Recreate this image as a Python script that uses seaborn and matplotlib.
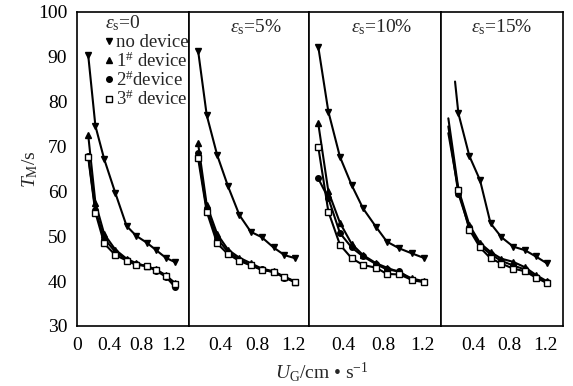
import numpy as np
import pandas as pd
import matplotlib
matplotlib.use("Agg")
import matplotlib.pyplot as plt
from matplotlib.lines import Line2D
import seaborn as sns

sns.set_style("white")
plt.rcParams['font.family'] = ['Liberation Serif', 'DejaVu Serif']
plt.rcParams['mathtext.fontset'] = 'custom'
plt.rcParams['mathtext.rm'] = 'Liberation Serif'
plt.rcParams['mathtext.it'] = 'Liberation Serif:italic'

# ---------------- data ----------------
panel_labels = ["0", "5%", "10%", "15%"]
device_labels = ["no device", "1$^{\\#}$ device", "2$^{\\#}$device", "3$^{\\#}$ device"]

# panel 1 (eps_s = 0)
ug_p1 = [0.14, 0.23, 0.34, 0.48, 0.62, 0.74, 0.87, 0.99, 1.11, 1.23]
no_p1 = [90.4, 74.6, 67.2, 59.6, 52.3, 50.1, 48.6, 46.9, 45.2, 44.2]
d1_p1 = [72.6, 57.5, 50.5, 47.0, 45.0, 44.0, 43.3, 42.6, 41.3, 39.5]
d2_p1 = [68.0, 55.8, 49.5, 46.5, 44.8, 43.8, 43.4, 42.3, 41.0, 38.6]
d3_p1 = [67.6, 55.3, 48.4, 45.8, 44.6, 43.6, 43.4, 42.5, 41.2, 39.4]

# panel 2 (eps_s = 5%)
ug_p2 = [0.15, 0.245, 0.36, 0.48, 0.605, 0.73, 0.85, 0.98, 1.10, 1.22]
no_p2 = [91.4, 77.0, 68.1, 61.1, 54.7, 51.0, 49.8, 47.5, 45.8, 45.1]
d1_p2 = [70.7, 57.0, 50.5, 47.0, 45.2, 44.0, 42.8, 42.2, 41.0, 39.9]
d2_p2 = [68.5, 56.0, 49.5, 46.5, 44.8, 43.6, 42.6, 42.0, 40.8, 39.7]
d3_p2 = [67.4, 55.5, 48.4, 46.0, 44.5, 43.5, 42.5, 42.1, 40.9, 39.8]

# panel 3 (eps_s = 10%)
ug_p3 = [0.148, 0.25, 0.367, 0.485, 0.60, 0.73, 0.84, 0.965, 1.09, 1.21]
no_p3 = [92.3, 77.8, 67.7, 61.4, 56.2, 52.1, 48.8, 47.3, 46.2, 45.2]
d1_p3 = [75.2, 60.0, 53.0, 48.3, 45.8, 44.0, 43.0, 42.0, 40.6, 40.0]
d2_p3 = [62.9, 58.5, 50.7, 47.5, 45.5, 43.8, 42.6, 42.2, 40.2, 39.8]
d3_p3 = [70.0, 55.5, 48.1, 45.1, 43.6, 43.0, 41.6, 41.5, 40.3, 39.9]

# panel 4 (eps_s = 15%)
ug_no_p4 = [0.198, 0.235, 0.356, 0.474, 0.59, 0.71, 0.84, 0.97, 1.09, 1.21]
no_p4 = [84.5, 77.4, 67.9, 62.5, 52.9, 49.8, 47.7, 46.9, 45.5, 44.0]
ug_p4 = [0.124, 0.235, 0.356, 0.474, 0.59, 0.71, 0.84, 0.97, 1.09, 1.21]
d1_p4 = [76.3, 60.5, 52.5, 48.5, 46.5, 45.0, 44.3, 43.1, 41.4, 40.0]
d2_p4 = [74.5, 59.5, 52.0, 48.0, 46.0, 44.5, 43.5, 42.6, 41.0, 39.8]
d3_p4 = [73.0, 60.3, 51.5, 47.5, 45.1, 43.9, 42.8, 42.2, 40.8, 39.6]

panels = [
    [(ug_p1, no_p1), (ug_p1, d1_p1), (ug_p1, d2_p1), (ug_p1, d3_p1)],
    [(ug_p2, no_p2), (ug_p2, d1_p2), (ug_p2, d2_p2), (ug_p2, d3_p2)],
    [(ug_p3, no_p3), (ug_p3, d1_p3), (ug_p3, d2_p3), (ug_p3, d3_p3)],
    [(ug_no_p4, no_p4), (ug_p4, d1_p4), (ug_p4, d2_p4), (ug_p4, d3_p4)],
]

# ---------------- layout ----------------
W, H = 573, 386
fig = plt.figure(figsize=(W / 100, H / 100), dpi=100)
edges = [77, 189, 309, 441, 563]
top_px, bot_px = 12, 326
xlims = [(0.0, 1.40), (0.05, 1.37), (0.055, 1.385), (0.043, 1.39)]
text_x = [None, 256, 382, 502]

markers = ['v', '^', 'o', 's']
fs = 14

for i in range(4):
    l = edges[i] / W
    w = (edges[i + 1] - edges[i]) / W
    b = (H - bot_px) / H
    h = (bot_px - top_px) / H
    ax = fig.add_axes([l, b, w, h])
    for j, (xs, ys) in enumerate(panels[i]):
        kw = dict(marker=markers[j], color='black', linewidth=1.5,
                  markersize=4.5 if j != 2 else 4, markeredgecolor='black',
                  markeredgewidth=1.0)
        if markers[j] == 's':
            kw['markerfacecolor'] = 'white'
            kw['markersize'] = 4
        if i == 3:
            kw['markevery'] = list(range(1, len(xs)))
        sns.lineplot(x=xs, y=ys, ax=ax, **kw)
    ax.set_xlim(*xlims[i])
    ax.set_ylim(30, 100)
    for s in ax.spines.values():
        s.set_color('black')
        s.set_linewidth(1.2)
    ax.tick_params(direction='in', length=3, width=1, colors='black', labelsize=fs)
    ax.tick_params(axis='x', pad=8)
    if i == 0:
        ax.set_xticks([0, 0.4, 0.8, 1.2])
        ax.set_xticklabels(['0', '0.4', '0.8', '1.2'])
        ax.set_yticks(range(30, 101, 10))
        ax.tick_params(axis='y', pad=7)
    else:
        ax.set_xticks([0.4, 0.8, 1.2])
        ax.set_xticklabels(['0.4', '0.8', '1.2'])
        ax.set_yticks([])
    ax.set_xlabel('')
    ax.set_ylabel('')
    if i == 0:
        fig.text(123 / W, 1 - 23 / H, "$\\varepsilon_\\mathrm{s}$=" + panel_labels[0],
                 ha='center', va='center', fontsize=fs)
        handles = []
        for j in range(4):
            handles.append(Line2D([], [], linestyle='none', marker=markers[j], color='black',
                                  markerfacecolor='white' if j == 3 else 'black',
                                  markersize=4))
        leg = ax.legend(handles, device_labels, loc='upper right',
                        bbox_to_anchor=(1.0, 0.93), frameon=False, fontsize=13.5,
                        handlelength=0.4, handletextpad=0.2, labelspacing=0.0,
                        borderaxespad=0.0, borderpad=0.0)
    else:
        fig.text(text_x[i] / W, 1 - 27 / H, "$\\varepsilon_\\mathrm{s}$=" + panel_labels[i],
                 ha='center', va='center', fontsize=fs)

fig.text(30 / W, 1 - 169 / H, "$T_\\mathrm{M}$/s", rotation=90, ha='center', va='center', fontsize=fs)
fig.text(322 / W, 1 - 372 / H, "$U_\\mathrm{G}$/cm \u2022 s$^{-1}$", ha='center', va='center', fontsize=fs)

fig.savefig("out.png", dpi=100)
